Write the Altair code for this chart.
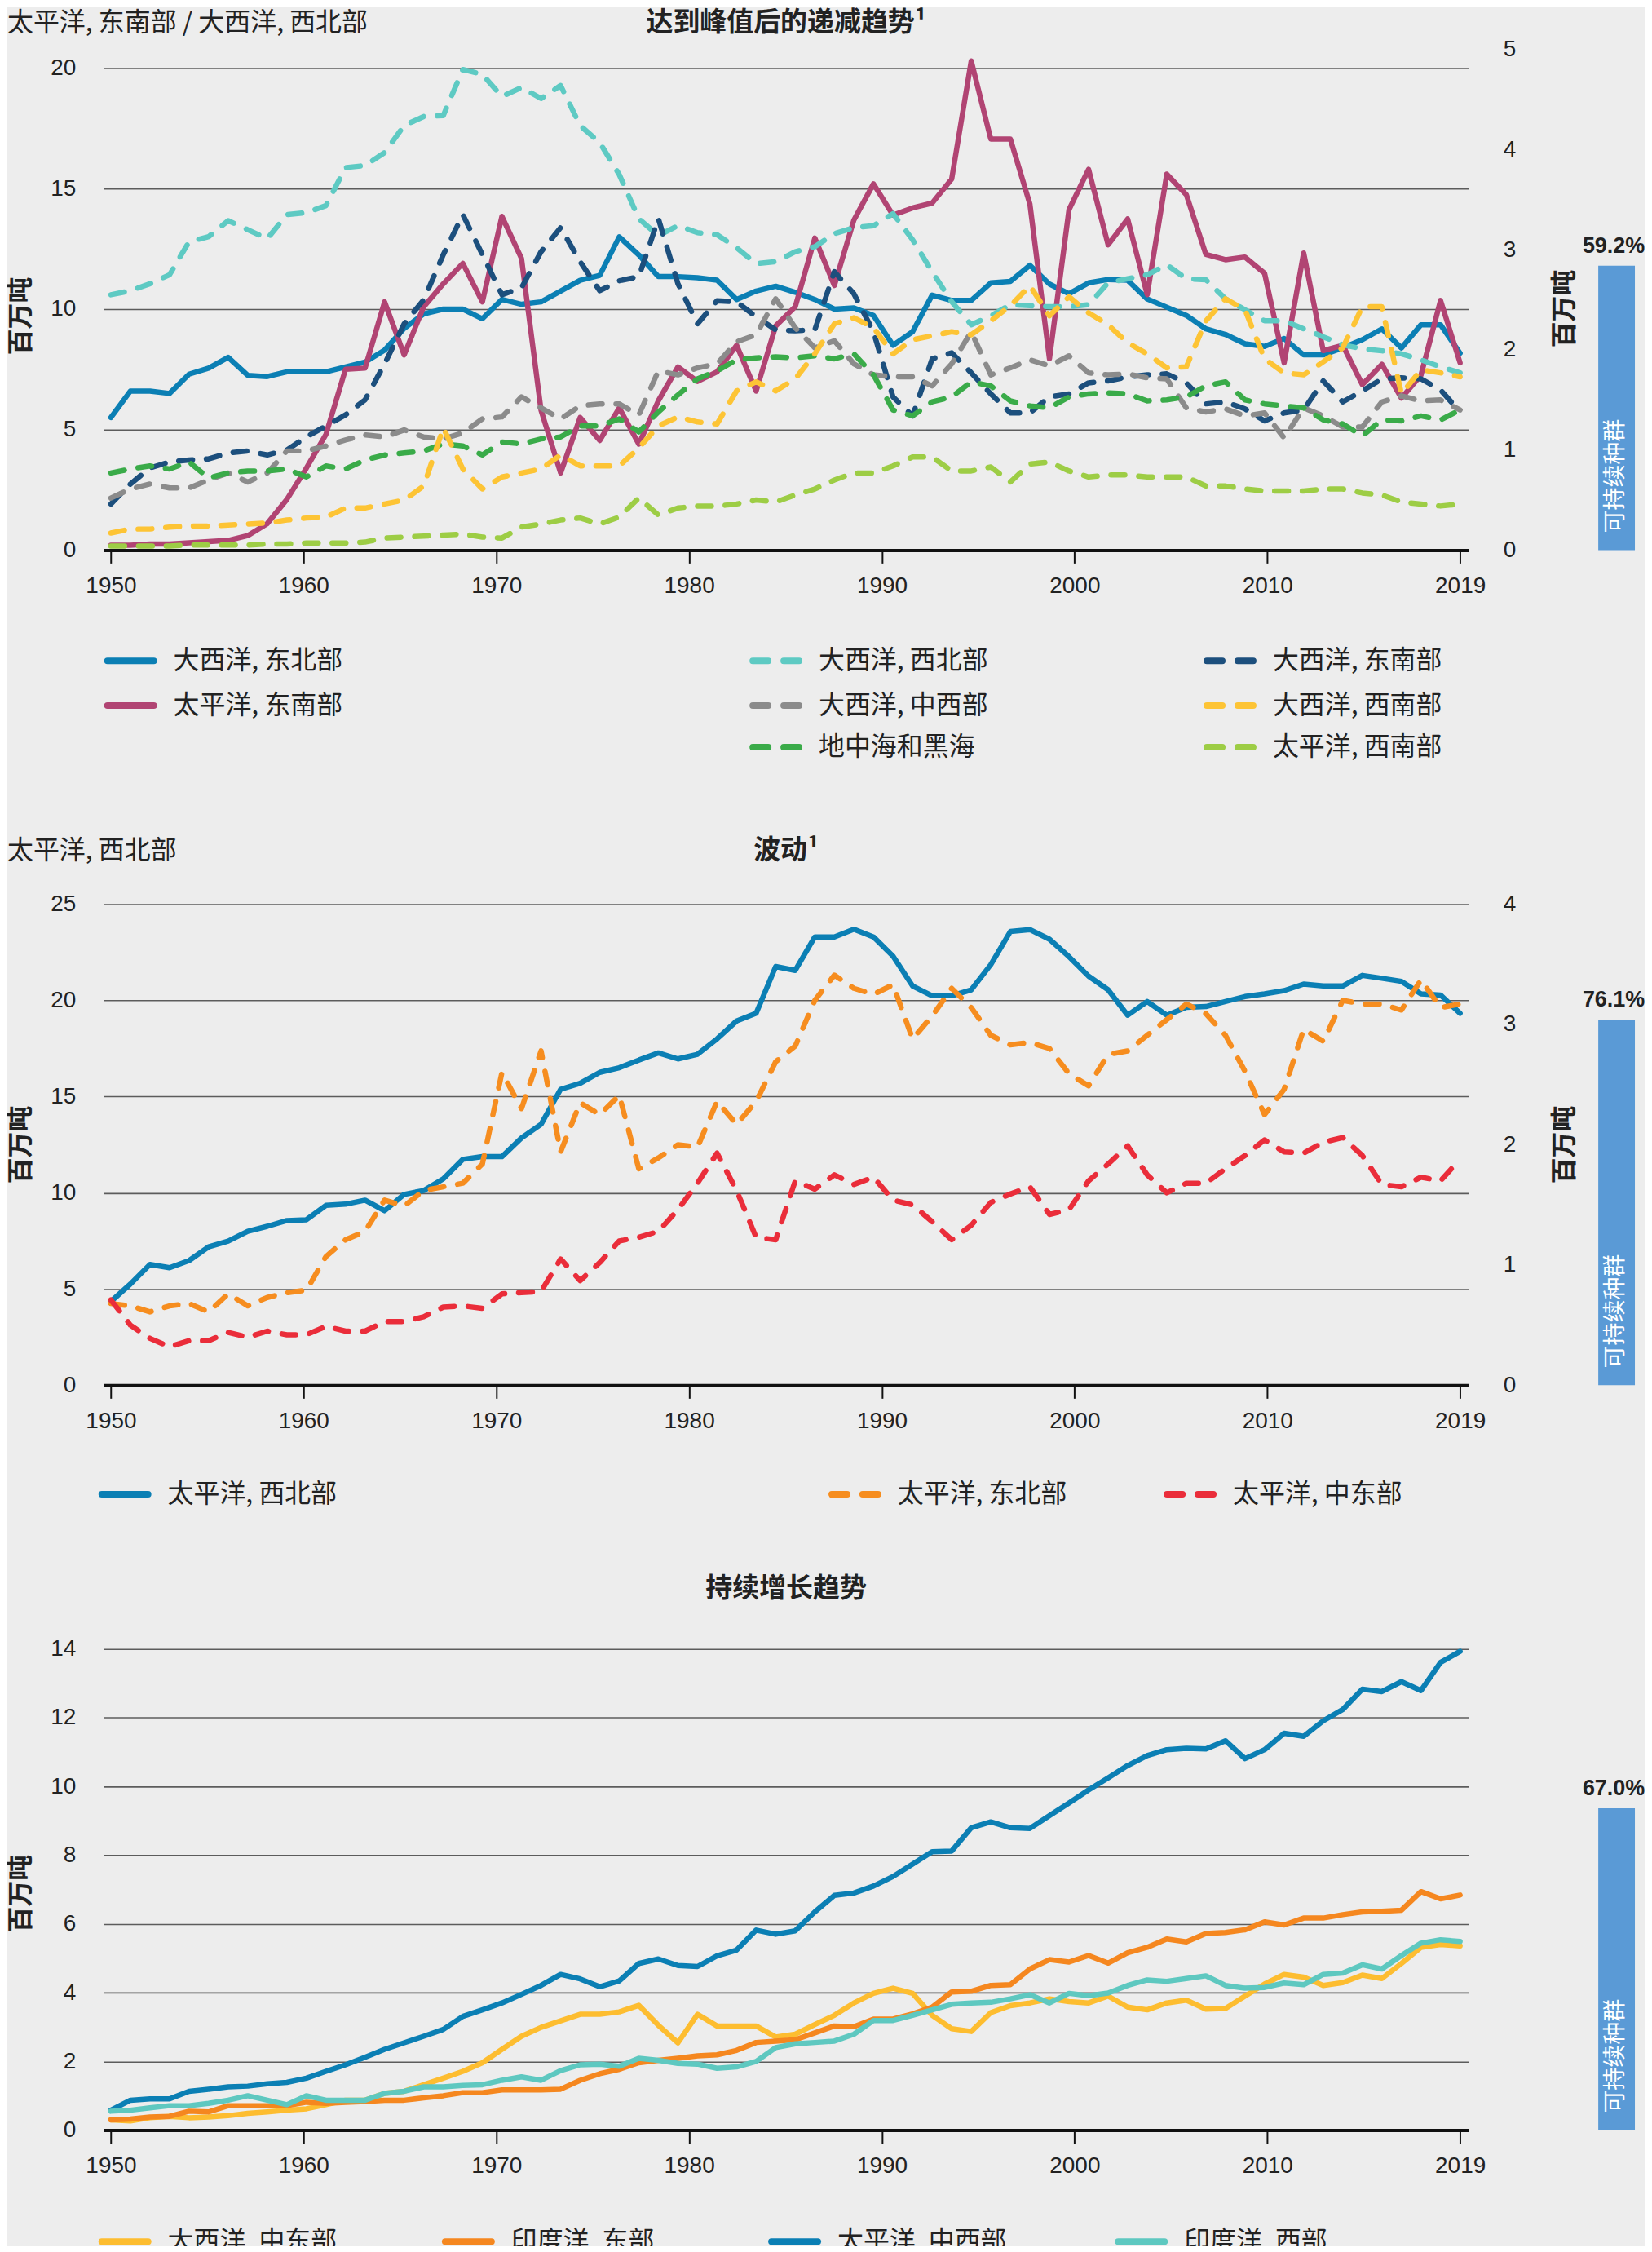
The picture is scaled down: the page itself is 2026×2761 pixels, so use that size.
import altair as alt
import pandas as pd

# ---------------- data ----------------
YEARS = list(range(1950, 2020))
TICK_LABELS = ["1950", "1960", "1970", "1980", "1990", "2000", "2010", "2019"]

P1_TITLE = "达到峰值后的递减趋势¹"
P1_TOPLEFT = "太平洋, 东南部 / 大西洋, 西北部"
P2_TITLE = "波动¹"
P2_TOPLEFT = "太平洋, 西北部"
P3_TITLE = "持续增长趋势"
Y_TITLE = "百万吨"
BAR_TEXT = "可持续种群"
SUSTAINABLE_PCT = [59.2, 76.1, 67.0]

# Panel 1 (left axis, solid)
ATL_NE = [5.5, 6.6, 6.6, 6.5, 7.3, 7.55, 8.0, 7.25, 7.2, 7.4,
          7.4, 7.4, 7.6, 7.8, 8.3, 9.2, 9.8, 10.0, 10.0, 9.6,
          10.4, 10.2, 10.3, 10.75, 11.2, 11.4, 13.0, 12.25, 11.35, 11.35,
          11.3, 11.2, 10.4, 10.75, 10.95, 10.7, 10.4, 10.0, 10.05, 9.74,
          8.5, 9.06, 10.58, 10.36, 10.36, 11.09, 11.15, 11.82, 11.04, 10.64,
          11.09, 11.23, 11.2, 10.42, 10.08, 9.74, 9.18, 8.95, 8.56, 8.45,
          8.78, 8.1, 8.1, 8.39, 8.73, 9.18, 8.39, 9.35, 9.35, 8.17]
PAC_SE = [0.2, 0.2, 0.25, 0.25, 0.3, 0.35, 0.4, 0.6, 1.1, 2.1,
          3.4, 4.8, 7.5, 7.55, 10.3, 8.1, 10.1, 11.05, 11.9, 10.3,
          13.85, 12.1, 5.8, 3.2, 5.5, 4.55, 5.9, 4.4, 6.2, 7.6,
          7.0, 7.4, 8.5, 6.6, 9.3, 10.1, 12.95, 10.98, 13.7, 15.2,
          13.9, 14.2, 14.4, 15.4, 20.3, 17.06, 17.06, 14.36, 7.94, 14.13,
          15.8, 12.67, 13.74, 10.6, 15.6, 14.75, 12.27, 12.05, 12.16, 11.49,
          7.77, 12.33, 8.28, 8.5, 6.87, 7.71, 6.31, 7.26, 10.36, 7.77]
# Panel 1 (right axis, dashed)
ATL_NW = [2.55, 2.59, 2.66, 2.75, 3.08, 3.13, 3.29, 3.2, 3.11, 3.35,
          3.37, 3.44, 3.82, 3.84, 3.97, 4.24, 4.33, 4.34, 4.8, 4.75,
          4.53, 4.62, 4.51, 4.64, 4.24, 4.07, 3.75, 3.31, 3.14, 3.24,
          3.17, 3.15, 3.02, 2.86, 2.88, 2.98, 3.03, 3.16, 3.22, 3.24,
          3.36, 3.1, 2.78, 2.48, 2.25, 2.34, 2.45, 2.44, 2.43, 2.43,
          2.45, 2.67, 2.71, 2.75, 2.85, 2.71, 2.7, 2.51, 2.4, 2.29,
          2.29, 2.21, 2.13, 2.05, 2.01, 1.99, 1.96, 1.9, 1.83, 1.77]
ATL_SE = [0.46, 0.66, 0.82, 0.88, 0.9, 0.91, 0.97, 0.99, 0.95, 1.0,
          1.13, 1.24, 1.35, 1.5, 1.86, 2.26, 2.5, 2.95, 3.35, 2.95,
          2.55, 2.62, 2.98, 3.22, 2.88, 2.59, 2.69, 2.73, 3.31, 2.66,
          2.26, 2.49, 2.48, 2.33, 2.2, 2.19, 2.2, 2.78, 2.56, 2.18,
          1.53, 1.34, 1.91, 1.97, 1.77, 1.56, 1.37, 1.37, 1.53, 1.56,
          1.67, 1.69, 1.73, 1.75, 1.76, 1.67, 1.46, 1.48, 1.41, 1.29,
          1.37, 1.4, 1.69, 1.48, 1.59, 1.71, 1.72, 1.71, 1.6, 1.38]
ATL_WC = [0.52, 0.61, 0.66, 0.62, 0.62, 0.7, 0.77, 0.68, 0.77, 0.99,
          0.99, 1.04, 1.1, 1.15, 1.13, 1.2, 1.13, 1.11, 1.17, 1.31,
          1.33, 1.53, 1.42, 1.31, 1.44, 1.46, 1.46, 1.35, 1.79, 1.75,
          1.82, 1.86, 2.08, 2.15, 2.51, 2.22, 2.02, 2.09, 1.86, 1.75,
          1.73, 1.73, 1.64, 1.86, 2.18, 1.75, 1.82, 1.9, 1.84, 1.94,
          1.77, 1.75, 1.76, 1.72, 1.71, 1.42, 1.38, 1.41, 1.34, 1.37,
          1.12, 1.42, 1.34, 1.23, 1.23, 1.48, 1.54, 1.49, 1.5, 1.4]
MED = [0.77, 0.81, 0.84, 0.81, 0.88, 0.72, 0.77, 0.79, 0.79, 0.81,
       0.73, 0.84, 0.81, 0.9, 0.95, 0.97, 0.99, 1.06, 1.04, 0.95,
       1.08, 1.06, 1.11, 1.13, 1.24, 1.24, 1.31, 1.18, 1.38, 1.55,
       1.71, 1.79, 1.9, 1.92, 1.93, 1.92, 1.94, 1.91, 1.96, 1.75,
       1.4, 1.34, 1.48, 1.53, 1.68, 1.64, 1.49, 1.44, 1.42, 1.53,
       1.56, 1.57, 1.56, 1.49, 1.5, 1.53, 1.64, 1.68, 1.5, 1.46,
       1.44, 1.42, 1.3, 1.26, 1.14, 1.3, 1.29, 1.34, 1.3, 1.4]
ATL_SW = [0.17, 0.21, 0.21, 0.23, 0.24, 0.24, 0.25, 0.26, 0.27, 0.3,
          0.32, 0.33, 0.42, 0.42, 0.46, 0.5, 0.64, 1.22, 0.81, 0.61,
          0.73, 0.77, 0.81, 0.95, 0.84, 0.84, 0.84, 1.02, 1.24, 1.33,
          1.28, 1.26, 1.59, 1.68, 1.59, 1.71, 1.96, 2.26, 2.32, 2.22,
          1.96, 2.1, 2.14, 2.18, 2.15, 2.29, 2.44, 2.64, 2.34, 2.53,
          2.37, 2.25, 2.07, 1.96, 1.82, 1.83, 2.29, 2.51, 2.4, 1.91,
          1.77, 1.75, 1.88, 2.02, 2.43, 2.43, 1.56, 1.8, 1.77, 1.73]
PAC_SW = [0.04, 0.04, 0.04, 0.04, 0.05, 0.05, 0.05, 0.05, 0.06, 0.06,
          0.07, 0.07, 0.07, 0.08, 0.12, 0.13, 0.14, 0.15, 0.16, 0.13,
          0.12, 0.23, 0.26, 0.3, 0.32, 0.26, 0.33, 0.52, 0.35, 0.42,
          0.44, 0.44, 0.46, 0.5, 0.48, 0.55, 0.61, 0.7, 0.77, 0.77,
          0.84, 0.93, 0.93, 0.79, 0.79, 0.83, 0.68, 0.86, 0.88, 0.79,
          0.73, 0.75, 0.75, 0.73, 0.73, 0.73, 0.64, 0.64, 0.61, 0.59,
          0.59, 0.59, 0.61, 0.61, 0.57, 0.55, 0.48, 0.46, 0.44, 0.46]

# Panel 2
PAC_NW = [4.35, 5.26, 6.28, 6.11, 6.48, 7.19, 7.49, 8.0, 8.26, 8.56,
          8.6, 9.35, 9.41, 9.62, 9.07, 9.92, 10.12, 10.73, 11.74, 11.88,
          11.88, 12.85, 13.56, 15.38, 15.69, 16.26, 16.5, 16.9, 17.27, 16.96,
          17.2, 18.0, 18.93, 19.33, 21.76, 21.56, 23.3, 23.3, 23.7, 23.3,
          22.3, 20.75, 20.24, 20.24, 20.55, 21.86, 23.58, 23.68, 23.18, 22.27,
          21.26, 20.55, 19.23, 19.94, 19.23, 19.64, 19.68, 19.94, 20.2, 20.34,
          20.51, 20.85, 20.75, 20.75, 21.3, 21.15, 20.99, 20.34, 20.28, 19.33]
PAC_NE = [0.68, 0.66, 0.61, 0.66, 0.68, 0.61, 0.76, 0.66, 0.73, 0.77,
          0.79, 1.07, 1.21, 1.28, 1.54, 1.49, 1.62, 1.65, 1.68, 1.84,
          2.6, 2.3, 2.78, 1.94, 2.35, 2.25, 2.41, 1.8, 1.89, 2.0,
          1.98, 2.36, 2.17, 2.36, 2.69, 2.82, 3.2, 3.41, 3.3, 3.25,
          3.33, 2.88, 3.07, 3.3, 3.14, 2.91, 2.83, 2.85, 2.8, 2.59,
          2.49, 2.75, 2.78, 2.91, 3.04, 3.17, 3.09, 2.91, 2.61, 2.25,
          2.46, 2.96, 2.86, 3.2, 3.17, 3.17, 3.12, 3.37, 3.14, 3.17]
PAC_EC = [0.71, 0.5, 0.39, 0.32, 0.37, 0.37, 0.44, 0.4, 0.45, 0.42,
          0.42, 0.49, 0.45, 0.45, 0.53, 0.53, 0.57, 0.65, 0.66, 0.64,
          0.76, 0.77, 0.78, 1.05, 0.87, 1.02, 1.2, 1.23, 1.28, 1.46,
          1.68, 1.93, 1.62, 1.23, 1.21, 1.7, 1.63, 1.75, 1.67, 1.73,
          1.54, 1.5, 1.36, 1.21, 1.33, 1.52, 1.59, 1.65, 1.42, 1.46,
          1.7, 1.84, 1.99, 1.75, 1.6, 1.68, 1.68, 1.8, 1.91, 2.04,
          1.94, 1.93, 2.02, 2.06, 1.91, 1.67, 1.65, 1.73, 1.7, 1.88]

# Panel 3
ATL_EC = [0.3, 0.27, 0.36, 0.4, 0.36, 0.38, 0.42, 0.49, 0.53, 0.58,
          0.62, 0.74, 0.87, 0.87, 1.07, 1.13, 1.32, 1.51, 1.71, 1.96,
          2.35, 2.73, 2.99, 3.18, 3.37, 3.37, 3.44, 3.63, 3.05, 2.54,
          3.37, 3.03, 3.03, 3.03, 2.71, 2.79, 3.07, 3.34, 3.7, 3.98,
          4.13, 3.98, 3.34, 2.95, 2.87, 3.42, 3.62, 3.7, 3.82, 3.74,
          3.7, 3.9, 3.58, 3.5, 3.7, 3.78, 3.52, 3.54, 3.9, 4.25,
          4.53, 4.45, 4.21, 4.29, 4.51, 4.41, 4.85, 5.32, 5.4, 5.36]
IND_E = [0.3, 0.32, 0.38, 0.4, 0.55, 0.53, 0.71, 0.71, 0.71, 0.71,
         0.81, 0.78, 0.81, 0.83, 0.87, 0.87, 0.94, 1.0, 1.09, 1.09,
         1.17, 1.17, 1.17, 1.19, 1.45, 1.64, 1.77, 1.96, 2.03, 2.09,
         2.16, 2.19, 2.32, 2.55, 2.59, 2.63, 2.83, 3.03, 3.01, 3.23,
         3.23, 3.38, 3.58, 4.02, 4.04, 4.21, 4.23, 4.69, 4.96, 4.89,
         5.08, 4.86, 5.16, 5.32, 5.56, 5.48, 5.72, 5.75, 5.83, 6.06,
         5.97, 6.17, 6.17, 6.27, 6.35, 6.37, 6.4, 6.94, 6.73, 6.84]
PAC_WC = [0.58, 0.87, 0.91, 0.91, 1.13, 1.19, 1.26, 1.28, 1.35, 1.39,
          1.51, 1.71, 1.9, 2.12, 2.35, 2.54, 2.73, 2.93, 3.31, 3.5,
          3.7, 3.95, 4.21, 4.53, 4.4, 4.17, 4.34, 4.85, 4.98, 4.79,
          4.76, 5.07, 5.24, 5.82, 5.7, 5.8, 6.35, 6.83, 6.9, 7.1,
          7.38, 7.74, 8.1, 8.12, 8.8, 8.97, 8.8, 8.78, 9.15, 9.52,
          9.9, 10.25, 10.61, 10.9, 11.07, 11.11, 11.09, 11.33, 10.81, 11.07,
          11.55, 11.46, 11.91, 12.24, 12.83, 12.76, 13.05, 12.79, 13.61, 13.93]
IND_W = [0.55, 0.58, 0.65, 0.71, 0.71, 0.78, 0.87, 1.0, 0.87, 0.74,
         1.0, 0.87, 0.87, 0.87, 1.07, 1.13, 1.26, 1.26, 1.3, 1.32,
         1.45, 1.55, 1.45, 1.73, 1.9, 1.92, 1.86, 2.09, 2.03, 1.94,
         1.92, 1.8, 1.84, 2.0, 2.4, 2.51, 2.55, 2.59, 2.79, 3.19,
         3.19, 3.34, 3.5, 3.66, 3.7, 3.72, 3.82, 3.94, 3.7, 3.98,
         3.91, 3.99, 4.21, 4.37, 4.33, 4.41, 4.49, 4.21, 4.13, 4.15,
         4.28, 4.23, 4.53, 4.57, 4.81, 4.69, 5.08, 5.44, 5.54, 5.49]

# ---------------- style ----------------
CJK = "Noto Sans CJK SC"
NUM = "Liberation Sans Narrow, Liberation Sans, sans-serif"
TXT = "#222222"
BG = "#ededed"
BAR_COLOR = "#5a9ad6"
BLUE, MAGENTA, CYAN, NAVY = "#0b7fb4", "#b14473", "#5ecac3", "#1c4f7d"
GRAY, GREEN, YELLOW, LGREEN = "#8b8b8b", "#3aab49", "#fdc435", "#9dcd45"
ORANGE, RED, TEAL = "#f68d1f", "#ea2d3a", "#5ec8c0"
LINE_W = 6.5

PLOT_W = 1678
PX_YEAR = (1793.2 - 135.2) / 69
X_DOMAIN = [1950 - 9.2 / PX_YEAR, 2019 + 10.8 / PX_YEAR]
TICK_VALUES = [1950 + k * 69 / 7 for k in range(8)]
LABEL_EXPR = "[" + ",".join(repr(t) for t in TICK_LABELS) + "][round((datum.value - 1950) * 7 / 69)]"
BAR_PX_PER_100 = 590


def x_enc():
    return alt.X("year:Q", scale=alt.Scale(domain=X_DOMAIN, nice=False, zero=False),
                 axis=alt.Axis(values=TICK_VALUES, labelExpr=LABEL_EXPR, title=None, grid=False,
                               domainColor="#111111", domainWidth=4, tickColor="#111111", tickWidth=2,
                               tickSize=16, labelFont=NUM, labelFontSize=28, labelColor=TXT,
                               labelPadding=14, labelFlush=False, labelOverlap=False))


def left_axis(values, title_y):
    return alt.Axis(orient="left", values=values, grid=True, gridColor="#5c5c5c", gridWidth=1.6,
                    domain=False, ticks=False, tickSize=0, labelPadding=34, labelFont=NUM,
                    labelFontSize=28, labelColor=TXT, labelOverlap=False, title=Y_TITLE, titleFont=CJK,
                    titleFontSize=32, titleFontWeight="bold", titleColor=TXT, titleAngle=270,
                    titleX=-101, titleY=title_y, titleAlign="center", titleBaseline="middle")


def right_axis(values, title_y):
    return alt.Axis(orient="right", values=values, grid=False, domain=False, ticks=False, tickSize=0,
                    labelPadding=42, labelFont=NUM, labelFontSize=28, labelColor=TXT, labelOverlap=False,
                    title=Y_TITLE, titleFont=CJK, titleFontSize=32, titleFontWeight="bold",
                    titleColor=TXT, titleAngle=270, titleX=117, titleY=title_y,
                    titleAlign="center", titleBaseline="middle")


def series_layer(values, color, y_scale, y_axis, dashed):
    df = pd.DataFrame({"year": YEARS, "value": values})
    props = dict(color=color, strokeWidth=LINE_W, strokeCap="round", strokeJoin="round")
    if dashed:
        props["strokeDash"] = [17, 17]
    return alt.Chart(df).mark_line(**props).encode(
        x=x_enc(), y=alt.Y("value:Q", scale=y_scale, axis=y_axis))


def text_layer(txt, x, y, size, weight="normal", align="center", font=CJK):
    return alt.Chart(pd.DataFrame({"t": [txt]})).mark_text(
        align=align, baseline="middle", font=font, fontSize=size, fontWeight=weight, color=TXT
    ).encode(x=alt.value(x), y=alt.value(y), text="t:N")


def bar_group(pct, h):
    ys = alt.Scale(domain=[0, 100 * h / BAR_PX_PER_100], nice=False, zero=True)
    df = pd.DataFrame({"pct": [pct], "label": [f"{pct:.1f}%"], "txt": [BAR_TEXT]})
    bar = alt.Chart(df).mark_bar(color=BAR_COLOR).encode(
        x=alt.value(1837), x2=alt.value(1882), y=alt.Y("pct:Q", scale=ys, axis=None), y2=alt.datum(0))
    lab = alt.Chart(df).mark_text(dy=-24, fontSize=27, fontWeight="bold", font=NUM, color=TXT,
                                  baseline="middle").encode(
        x=alt.value(1856), y=alt.Y("pct:Q", scale=ys, axis=None), text="label:N")
    inner = alt.Chart(df).mark_text(angle=270, align="left", baseline="middle", dx=21, color="white",
                                    font=CJK, fontSize=28).encode(
        x=alt.value(1859), y=alt.datum(0), text="txt:N")
    return alt.layer(bar, lab, inner)


def legend_layers(entries, col_x, row_y):
    out = []
    for name, color, dashed, col, row in entries:
        x0, y0 = col_x[col], row_y[row]
        props = dict(color=color, strokeWidth=8, strokeCap="round")
        if dashed:
            props["strokeDash"] = [19, 19]
        out.append(alt.Chart(pd.DataFrame({"n": [name]})).mark_rule(**props).encode(
            x=alt.value(x0 + 4), x2=alt.value(x0 + 61), y=alt.value(y0)))
        out.append(text_layer(name, x0 + 85, y0, 32, align="left"))
    return out


def panel(h, solid, dashed, left_dom, left_vals, left_ty, right_dom, right_vals, right_ty,
          pct, texts, legend):
    ls = alt.Scale(domain=left_dom, nice=False, zero=True)
    la = left_axis(left_vals, left_ty)
    groups = [alt.layer(*[series_layer(v, c, ls, la, False) for v, c in solid])]
    if dashed:
        rs = alt.Scale(domain=right_dom, nice=False, zero=True)
        ra = right_axis(right_vals, right_ty)
        groups.append(alt.layer(*[series_layer(v, c, rs, ra, True) for v, c in dashed]))
    groups.append(bar_group(pct, h))
    return alt.layer(*(groups + texts + legend)).resolve_scale(y="independent").properties(
        width=PLOT_W, height=h)


# ---------- panel 1 ----------
H1 = 615
p1 = panel(
    H1,
    solid=[(ATL_NE, BLUE), (PAC_SE, MAGENTA)],
    dashed=[(ATL_NW, CYAN), (ATL_SE, NAVY), (ATL_WC, GRAY), (MED, GREEN), (ATL_SW, YELLOW), (PAC_SW, LGREEN)],
    left_dom=[0, 20 * H1 / 592], left_vals=[0, 5, 10, 15, 20], left_ty=327,
    right_dom=[0, 5], right_vals=[0, 1, 2, 3, 4, 5], right_ty=318,
    pct=SUSTAINABLE_PCT[0],
    texts=[text_layer(P1_TITLE, 839, -33, 33, weight="bold"),
           text_layer(P1_TOPLEFT, -118, -33, 32, align="left")],
    legend=legend_layers([
        ("大西洋, 东北部", BLUE, False, 0, 0), ("大西洋, 西北部", CYAN, True, 1, 0),
        ("大西洋, 东南部", NAVY, True, 2, 0), ("太平洋, 东南部", MAGENTA, False, 0, 1),
        ("大西洋, 中西部", GRAY, True, 1, 1), ("大西洋, 西南部", YELLOW, True, 2, 1),
        ("地中海和黑海", GREEN, True, 1, 2), ("太平洋, 西南部", LGREEN, True, 2, 2)],
        col_x=[1, 794, 1352], row_y=[751, 806, 857]),
)

# ---------- panel 2 ----------
H2 = 591
p2 = panel(
    H2,
    solid=[(PAC_NW, BLUE)],
    dashed=[(PAC_NE, ORANGE), (PAC_EC, RED)],
    left_dom=[0, 25], left_vals=[0, 5, 10, 15, 20, 25], left_ty=295,
    right_dom=[0, 4], right_vals=[0, 1, 2, 3, 4], right_ty=295,
    pct=SUSTAINABLE_PCT[1],
    texts=[text_layer(P2_TITLE, 839, -66, 33, weight="bold"),
           text_layer(P2_TOPLEFT, -118, -66, 32, align="left")],
    legend=legend_layers([
        ("太平洋, 西北部", BLUE, False, 0, 0), ("太平洋, 东北部", ORANGE, True, 1, 0),
        ("太平洋, 中东部", RED, True, 2, 0)],
        col_x=[-6, 891, 1303], row_y=[725]),
)

# ---------- panel 3 ----------
H3 = 591
p3 = panel(
    H3,
    solid=[(ATL_EC, "#fdbd30"), (IND_E, "#f5871f"), (PAC_WC, BLUE), (IND_W, TEAL)],
    dashed=None,
    left_dom=[0, 14], left_vals=[0, 2, 4, 6, 8, 10, 12, 14], left_ty=300,
    right_dom=None, right_vals=None, right_ty=None,
    pct=SUSTAINABLE_PCT[2],
    texts=[text_layer(P3_TITLE, 839, -74, 33, weight="bold")],
    legend=legend_layers([
        ("大西洋, 中东部", "#fdbd30", False, 0, 0), ("印度洋, 东部", "#f5871f", False, 1, 0),
        ("太平洋, 中西部", BLUE, False, 2, 0), ("印度洋, 西部", TEAL, False, 3, 0)],
        col_x=[-6, 416, 817, 1243], row_y=[728]),
)

chart = alt.vconcat(alt.vconcat(p1, p2, spacing=93), p3, spacing=82).configure(
    background=BG, padding={"top": 0, "bottom": -14, "right": 0, "left": 0}, font=CJK
).configure_view(stroke="transparent")

chart.save("out.html", embed_options={"renderer": "svg", "actions": False})
